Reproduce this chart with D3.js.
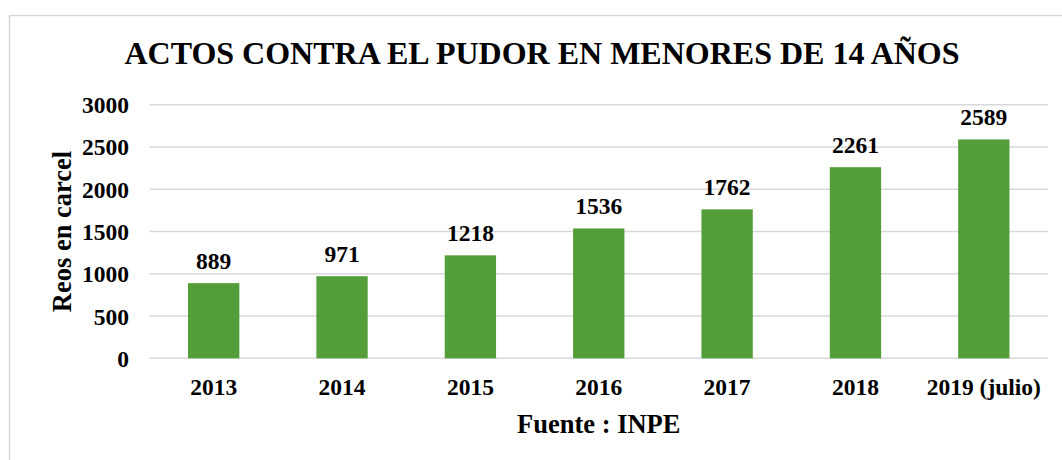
<!DOCTYPE html>
<html>
<head>
<meta charset="utf-8">
<script src="https://cdn.jsdelivr.net/npm/d3@7"></script>
<style>
  html, body { margin: 0; padding: 0; background: #ffffff; }
  svg text { font-family: "Liberation Serif", "Times New Roman", serif; font-weight: bold; fill: #000; }
</style>
</head>
<body>
<svg id="chart" width="1062" height="460"></svg>
<script>
const categories = ["2013", "2014", "2015", "2016", "2017", "2018", "2019 (julio)"];
const values = [889, 971, 1218, 1536, 1762, 2261, 2589];
const yTicks = [0, 500, 1000, 1500, 2000, 2500, 3000];
const titleText = "ACTOS CONTRA EL PUDOR EN MENORES DE 14 AÑOS";
const yTitle = "Reos en carcel";
const xTitle = "Fuente : INPE";

const svg = d3.select("#chart");
const margin = { left: 149.5, right: 1048, top: 104.7, bottom: 358.3 };

svg.append("rect")
  .attr("x", 9.5).attr("y", 15.5)
  .attr("width", 1100).attr("height", 500)
  .attr("fill", "#fff").attr("stroke", "#d9d9d9").attr("stroke-width", 1.5);

const x = d3.scaleBand().domain(categories).range([margin.left, margin.right]).paddingInner(0.6).paddingOuter(0.3);
const y = d3.scaleLinear().domain([0, 3000]).range([margin.bottom, margin.top]);

// grid
svg.append("g").selectAll("line").data(yTicks).join("line")
  .attr("x1", margin.left).attr("x2", margin.right)
  .attr("y1", d => y(d)).attr("y2", d => y(d))
  .attr("stroke", "#d9d9d9").attr("stroke-width", 1.5);

// y axis labels
const yAxis = d3.axisLeft(y).tickValues(yTicks).tickSize(0).tickPadding(0).tickFormat(d3.format("d"));
const gy = svg.append("g").attr("transform", `translate(129,0)`).call(yAxis);
gy.select(".domain").remove();
gy.selectAll("text").style("font-size", "23.5px").attr("dy", "0.34em");

// bars
svg.append("g").selectAll("rect").data(values).join("rect")
  .attr("x", (d, i) => x(categories[i]))
  .attr("y", d => y(d))
  .attr("width", x.bandwidth())
  .attr("height", d => y(0) - y(d))
  .attr("fill", "#549e39");

// bar labels
svg.append("g").selectAll("text").data(values).join("text")
  .attr("x", (d, i) => x(categories[i]) + x.bandwidth() / 2)
  .attr("y", d => y(d) - 14)
  .attr("text-anchor", "middle")
  .style("font-size", "23.5px")
  .text(d => d);

// x axis labels
const xAxis = d3.axisBottom(x).tickSize(0).tickPadding(0);
const gx = svg.append("g").attr("transform", `translate(0,${margin.bottom})`).call(xAxis);
gx.select(".domain").remove();
gx.selectAll("text").style("font-size", "23.5px").attr("dy", null).attr("y", 37);

// title
svg.append("text")
  .attr("x", 542).attr("y", 64)
  .attr("text-anchor", "middle")
  .style("font-size", "32px")
  .text(titleText);

// y title
svg.append("text")
  .attr("transform", `translate(71,${(margin.top + margin.bottom) / 2}) rotate(-90)`)
  .attr("text-anchor", "middle")
  .style("font-size", "26.5px")
  .text(yTitle);

// x title
svg.append("text")
  .attr("x", (margin.left + margin.right) / 2).attr("y", 433)
  .attr("text-anchor", "middle")
  .style("font-size", "26.5px")
  .text(xTitle);
</script>
</body>
</html>
